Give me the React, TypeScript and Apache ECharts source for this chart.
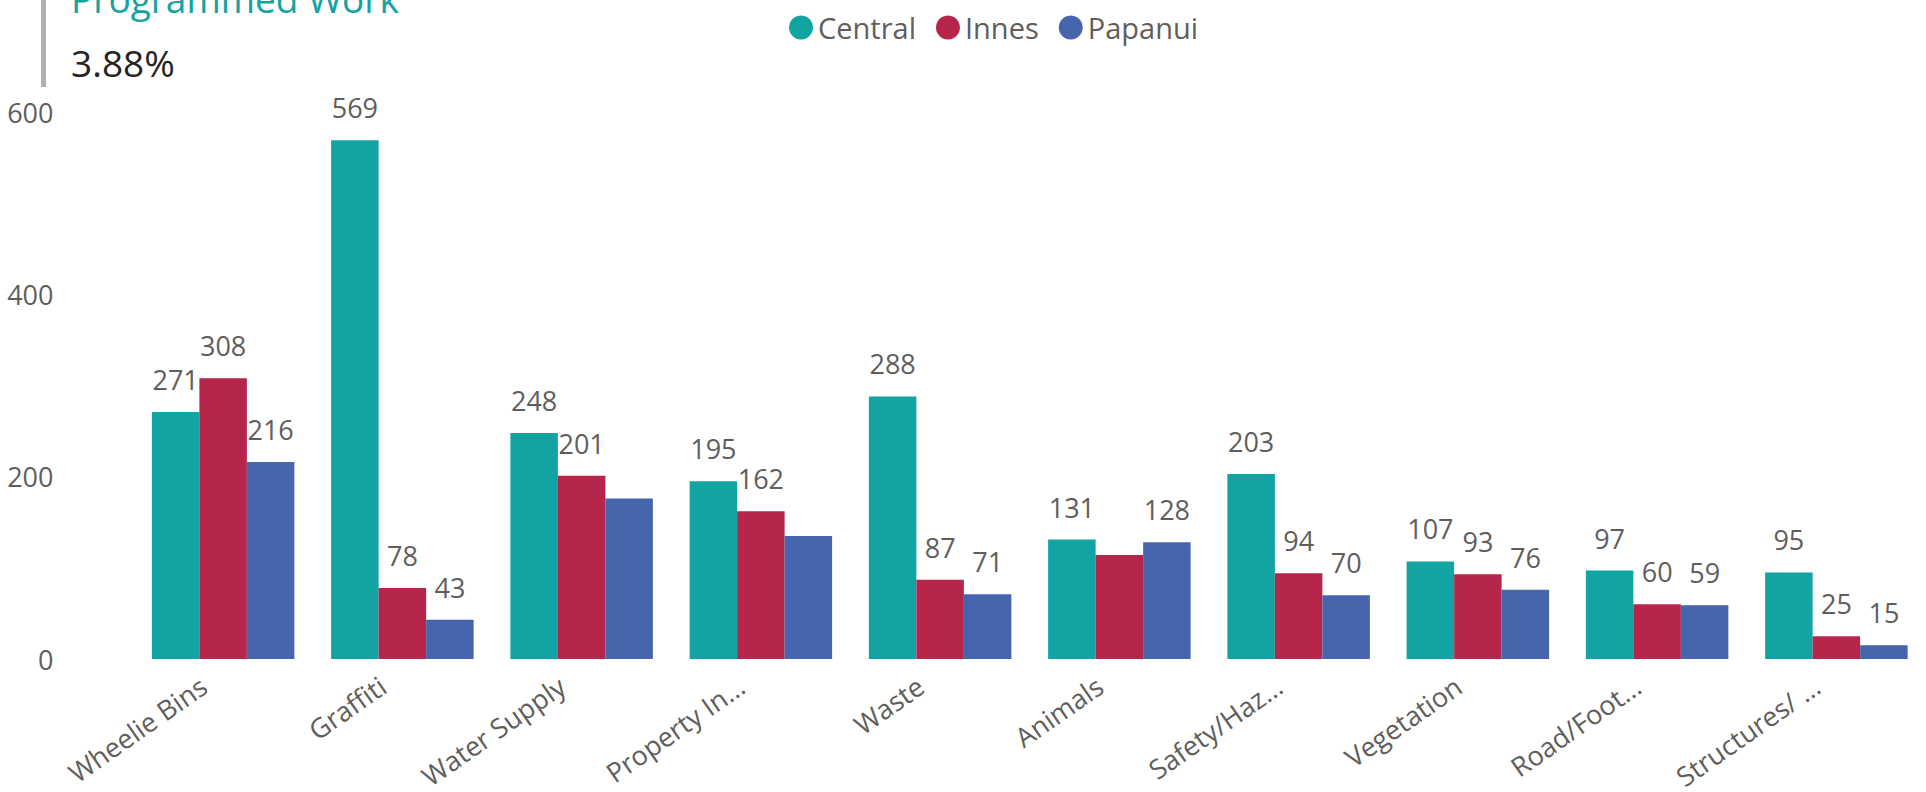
import React, { useEffect, useRef } from "react";
import * as echarts from "echarts";

const categories = [
  "Wheelie Bins",
  "Graffiti",
  "Water Supply",
  "Property In…",
  "Waste",
  "Animals",
  "Safety/Haz…",
  "Vegetation",
  "Road/Foot…",
  "Structures/ …",
];
const seriesNames = ["Central", "Innes", "Papanui"];
const central = [271, 569, 248, 195, 288, 131, 203, 107, 97, 95];
const innes = [308, 78, 201, 162, 87, 114, 94, 93, 60, 25];
const papanui = [216, 43, 176, 135, 71, 128, 70, 76, 59, 15];
// labels Power BI hid because they overlapped: [seriesIndex, categoryIndex]
const hiddenLabels: [number, number][] = [
  [2, 2],
  [2, 3],
  [1, 5],
];
const yTicks = [0, 200, 400, 600];
const cardTitle = "Programmed Work";
const cardValue = "3.88%";

const colors = ["#12A3A3", "#B5264A", "#4665AC"];
const FONT = "'Open Sans', 'Noto Sans', sans-serif";
const GRAY = "#605E5C";

export default function App() {
  const ref = useRef<HTMLDivElement>(null);
  useEffect(() => {
    if (!ref.current) return;
    const chart = echarts.init(ref.current, null, { renderer: "svg" });
    const values = [central, innes, papanui];
    const series = values.map((vals, si) => ({
      name: seriesNames[si],
      type: "bar",
      barGap: "0%",
      barCategoryGap: "20.5%",
      itemStyle: { color: colors[si] },
      label: {
        show: true,
        position: "top",
        distance: 19,
        color: GRAY,
        fontSize: 27,
        fontFamily: FONT,
      },
      data: vals.map((v, ci) =>
        hiddenLabels.some(([s, c]) => s === si && c === ci)
          ? { value: v, label: { show: false } }
          : v
      ),
    }));
    chart.setOption({
      animation: false,
      color: colors,
      textStyle: { fontFamily: FONT },
      legend: {
        data: seriesNames,
        left: 784,
        top: 8,
        icon: "circle",
        itemWidth: 24,
        itemHeight: 24,
        itemGap: 20,
        textStyle: { color: GRAY, fontSize: 29, fontFamily: FONT },
      },
      grid: {
        left: 133.5,
        top: 112,
        width: 1800,
        height: 551,
        containLabel: false,
      },
      xAxis: {
        type: "category",
        data: categories,
        axisLine: { show: false },
        axisTick: { show: false },
        axisLabel: {
          rotate: 35,
          interval: 0,
          margin: 10,
          padding: [0, 24, 0, 0],
          color: GRAY,
          fontSize: 27,
          fontFamily: FONT,
        },
      },
      yAxis: {
        type: "value",
        min: yTicks[0],
        max: yTicks[yTicks.length - 1],
        interval: 200,
        splitLine: { show: false },
        axisLine: { show: false },
        axisTick: { show: false },
        axisLabel: {
          margin: 80,
          color: GRAY,
          fontSize: 27,
          fontFamily: FONT,
        },
      },
      graphic: [
        {
          type: "rect",
          shape: { x: 41, y: 0, width: 5, height: 87 },
          style: { fill: "#B3B0AD" },
        },
        {
          type: "text",
          x: 71,
          y: -2,
          style: {
            text: cardTitle,
            fill: "#12A3A3",
            font: `37px ${FONT}`,
            verticalAlign: "middle",
          },
        },
        {
          type: "text",
          x: 71,
          y: 62,
          style: {
            text: cardValue,
            fill: "#252423",
            font: `37px ${FONT}`,
            verticalAlign: "middle",
          },
        },
      ],
      series,
    });
    return () => chart.dispose();
  }, []);
  return (
    <div
      ref={ref}
      style={{ position: "absolute", left: 0, top: 0, width: 1926, height: 792 }}
    />
  );
}
